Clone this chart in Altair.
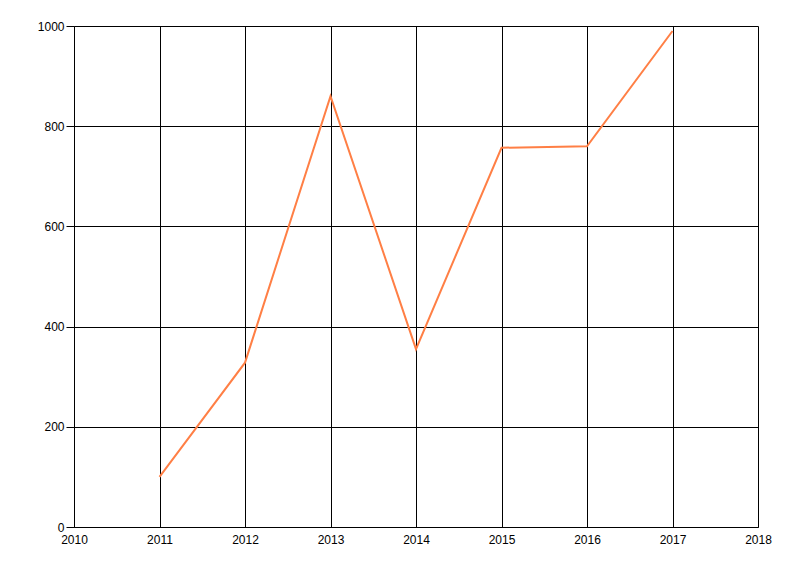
import altair as alt
import pandas as pd

years = [2011, 2012, 2013, 2014, 2015, 2016, 2017]
values = [100, 328, 860, 355, 757, 760, 990]
x_ticks = [2010, 2011, 2012, 2013, 2014, 2015, 2016, 2017, 2018]
y_ticks = [0, 200, 400, 600, 800, 1000]

df = pd.DataFrame({"year": years, "value": values})

chart = alt.Chart(df).mark_line(color="#FF7F45", strokeWidth=2).encode(
    x=alt.X("year:Q", scale=alt.Scale(domain=[2010, 2018], nice=False, zero=False),
            axis=alt.Axis(values=x_ticks, format="d", title=None, grid=True,
                          gridColor="black", gridOpacity=1, gridWidth=1,
                          domainColor="black", domainWidth=1, tickColor="black",
                          tickSize=0, labelPadding=7, labelFont="Liberation Sans",
                          labelFontSize=12, labelColor="black", labelFlush=False)),
    y=alt.Y("value:Q", scale=alt.Scale(domain=[0, 1000], nice=False),
            axis=alt.Axis(values=y_ticks, format="d", title=None, grid=True,
                          gridColor="black", gridOpacity=1, gridWidth=1,
                          domainColor="black", domainWidth=1, tickColor="black",
                          tickSize=8, labelPadding=2, labelFont="Liberation Sans",
                          labelFontSize=12, labelColor="black", labelFlush=False)),
).properties(
    width=684, height=501,
    autosize=alt.AutoSizeParams(type="none"),
    padding={"left": 66, "top": 18, "right": 30, "bottom": 40},
).configure_view(stroke=None)

chart.save("out.html", embed_options={"renderer": "svg", "actions": False})
